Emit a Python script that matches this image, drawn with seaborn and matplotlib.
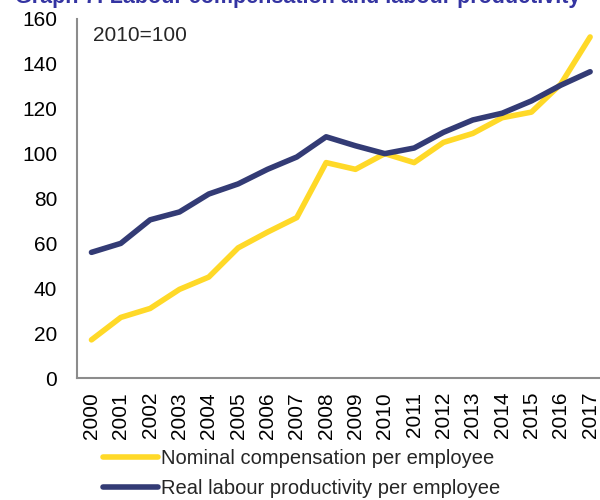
import matplotlib
matplotlib.use("Agg")
import matplotlib.pyplot as plt
import seaborn as sns
import pandas as pd

years = [str(y) for y in range(2000, 2018)]
nominal_comp = [17, 27, 31, 39.5, 45, 58, 65, 71.5, 96, 93, 100, 96, 105, 109, 116, 118.5, 131, 152]
real_productivity = [56, 60, 70.5, 74, 82, 86.5, 93, 98.5, 107.5, 103.5, 100, 102.5, 109.5, 115, 118, 123.5, 130.5, 136.5]

labels = ["Nominal compensation per employee", "Real labour productivity per employee"]
colors = ["#FFD928", "#333B75"]

df = pd.DataFrame({
    "year": years * 2,
    "value": nominal_comp + real_productivity,
    "series": [labels[0]] * len(years) + [labels[1]] * len(years),
})

sns.set_style("white")
plt.rcParams["font.family"] = ["Liberation Sans", "DejaVu Sans"]

fig = plt.figure(figsize=(6, 5), dpi=100)
ax = fig.add_axes([0.128, 0.244, 0.88, 0.718])

sns.lineplot(data=df, x="year", y="value", hue="series", palette=colors,
             linewidth=4, solid_capstyle="round", ax=ax, sort=False)

ax.set_xlim(-0.5, len(years) - 0.5)
ax.set_ylim(0, 160)
ax.set_yticks(range(0, 161, 20))
ax.set_xlabel("")
ax.set_ylabel("")
ax.tick_params(axis="both", length=0, labelsize=15, colors="black")
ax.tick_params(axis="x", rotation=90, pad=10)
ax.tick_params(axis="y", pad=14)
for s in ["top", "right"]:
    ax.spines[s].set_visible(False)
for s in ["left", "bottom"]:
    ax.spines[s].set_color("#8C8C8C")
    ax.spines[s].set_linewidth(1.5)

ax.text(0.03, 0.955, "2010=100", transform=ax.transAxes, fontsize=15, va="center")

leg = ax.legend(loc="upper left", bbox_to_anchor=(0.035, -0.175), frameon=False,
                fontsize=14.5, handlelength=2.7, handletextpad=0.15, labelspacing=0.55,
                borderaxespad=0)
for line in leg.get_lines():
    line.set_linewidth(4)

# title clipped at the top edge, as in the source
fig.text(0.025, 0.993, "Graph 7: Labour compensation and labour productivity",
         color="#3434A2", fontsize=15.5, fontweight="bold", va="baseline")

fig.savefig("out.png", dpi=100)
